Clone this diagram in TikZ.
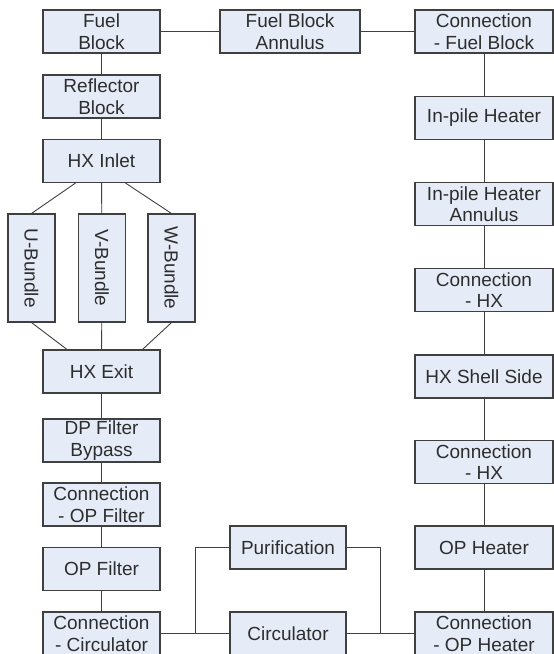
\documentclass[tikz,border=0pt]{standalone}
\usepackage{fontspec}
\setmainfont{Liberation Sans}
\usetikzlibrary{calc}
\definecolor{blkfill}{RGB}{230,236,247}
\definecolor{blkline}{RGB}{64,64,64}
\definecolor{blktext}{RGB}{45,45,45}

\begin{document}
\begin{tikzpicture}[x=1pt,y=-1pt,
  blk/.style={draw=blkline,fill=blkfill,text=blktext,line width=1.1pt,
    minimum height=43pt,inner sep=0pt,align=center,
    font=\fontsize{19}{21.5}\selectfont},
  lcol/.style={blk,minimum width=117pt},
  mcol/.style={blk,minimum width=116pt},
  rcol/.style={blk,minimum width=138pt},
  bundle/.style={blk,minimum width=108pt,minimum height=47pt,rotate=-90},
  link/.style={draw=blkline,line width=0.9pt}]
  \useasboundingbox (0,0) rectangle (554,654);

  % Left column (core side)
  \node[lcol] (fb)   at (101.5,31.5)  {Fuel\\Block};
  \node[lcol] (rb)   at (101.5,96.5)  {Reflector\\Block};
  \node[lcol] (hxin) at (101.5,161)   {HX Inlet};
  \node[bundle] (ubdl) at (31.5,268)  {U-Bundle};
  \node[bundle] (vbdl) at (102,268)   {V-Bundle};
  \node[bundle] (wbdl) at (171.5,268) {W-Bundle};
  \node[lcol] (hxex) at (101.5,371.5) {HX Exit};
  \node[lcol] (dpfb) at (101.5,440.5) {DP Filter\\Bypass};
  \node[lcol] (copf) at (101.5,504.5) {Connection\\- OP Filter};
  \node[lcol] (opf)  at (101.5,569)   {OP Filter};
  \node[lcol] (cc)   at (101.5,633.5) {Connection\\- Circulator};

  % Middle
  \node[blk,minimum width=140pt] (fba) at (290,31.5) {Fuel Block\\Annulus};
  \node[mcol] (purif) at (288,547.5) {Purification};
  \node[mcol] (circ)  at (288,633.5) {Circulator};

  % Right column (heater side)
  \node[rcol] (cfb)  at (484,31.5)  {Connection\\- Fuel Block};
  \node[rcol] (iph)  at (484,118)   {In-pile Heater};
  \node[rcol] (ipha) at (484,204)   {In-pile Heater\\Annulus};
  \node[rcol] (chx1) at (484,290)   {Connection\\- HX};
  \node[rcol] (hxss) at (484,376.5) {HX Shell Side};
  \node[rcol] (chx2) at (484,462)   {Connection\\- HX};
  \node[rcol] (oph)  at (484,547.5) {OP Heater};
  \node[rcol] (coph) at (484,633.5) {Connection\\- OP Heater};

  % Connections
  \draw[link] (fb) -- (fba) -- (cfb);
  \draw[link] (fb) -- (rb) -- (hxin);
  \draw[link] ($(hxin.south)+(-26,0)$) -- (ubdl.west);
  \draw[link] (hxin) -- (vbdl);
  \draw[link] ($(hxin.south)+(24,0)$) -- (wbdl.west);
  \draw[link] (ubdl.east) -- ($(hxex.north)+(-34.5,0)$);
  \draw[link] (vbdl) -- (hxex);
  \draw[link] (wbdl.east) -- ($(hxex.north)+(41,0)$);
  \draw[link] (hxex) -- (dpfb) -- (copf) -- (opf) -- (cc);
  \draw[link] (cfb) -- (iph) -- (ipha) -- (chx1) -- (hxss) -- (chx2) -- (oph) -- (coph);
  \draw[link] (cc) -- (circ) -- (coph);
  \draw[link] (purif.west) -| ($(cc.east)!0.5!(circ.west)$);
  \draw[link] (purif.east) -| ($(circ.east)!0.5!(coph.west)$);
\end{tikzpicture}
\end{document}
